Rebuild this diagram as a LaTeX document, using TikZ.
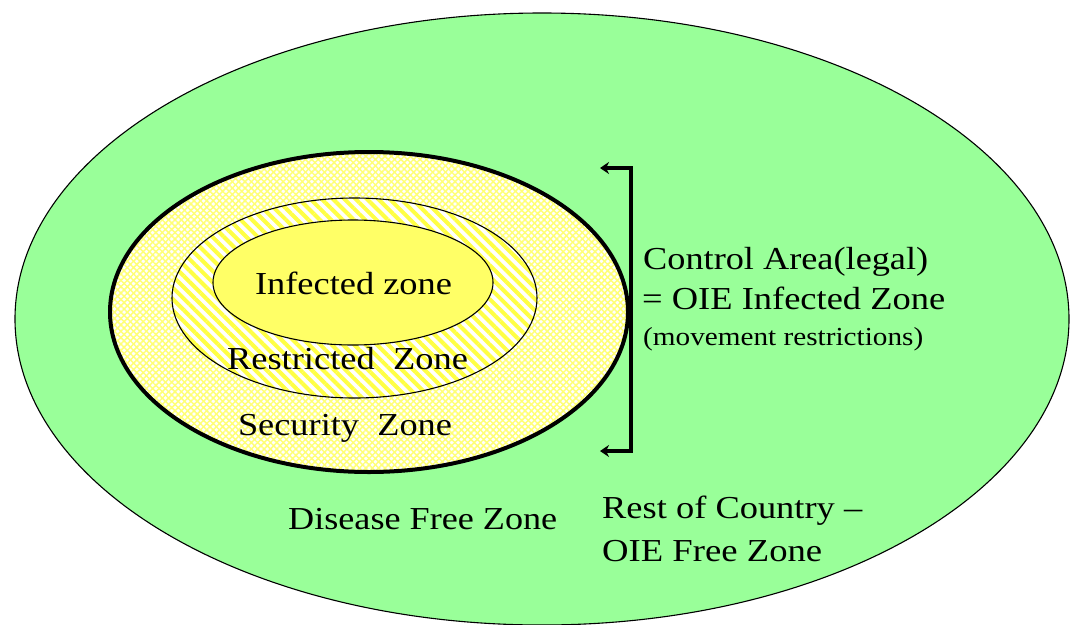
\documentclass[tikz,border=0pt]{standalone}
\usepackage{fontspec}
\setmainfont{Liberation Serif}
\usetikzlibrary{shapes.geometric,patterns.meta,arrows.meta}
\definecolor{fieldgreen}{HTML}{99FF99}
\definecolor{infyellow}{HTML}{FFFF66}
\definecolor{stripeyellow}{HTML}{FFFF44}
\definecolor{latticeyellow}{HTML}{FFFF77}
\newcommand\fitw[2]{\resizebox{#1}{\height}{#2}}
\begin{document}
\begin{tikzpicture}[x=1pt,y=-1pt,
  zone/.style={ellipse,inner sep=0pt,draw=black},
  lbl/.style={inner sep=0pt,font=\fontsize{32}{38}\selectfont,text=black},
  smalllbl/.style={inner sep=0pt,font=\fontsize{26}{30}\selectfont,text=black},
  bracketline/.style={line width=3.5pt,{Stealth[length=9pt,width=12pt]}-{Stealth[length=9pt,width=12pt]}}
]
\useasboundingbox (0,0) rectangle (1071,624);
\fill[white] (0,0) rectangle (1071,624);
% zones
\node[zone, fill=fieldgreen, line width=1.1pt, minimum width=1054pt, minimum height=612pt] (free) at (542,319) {};
\node[zone, line width=4pt, minimum width=518pt, minimum height=320pt,
  preaction={fill=white},
  preaction={pattern={Lines[angle=45,distance=4.5pt,line width=1.5pt]},pattern color=latticeyellow},
  preaction={pattern={Lines[angle=-45,distance=4.5pt,line width=1.5pt]},pattern color=latticeyellow}] (security) at (369,312) {};
\node[zone, line width=1.1pt, minimum width=365pt, minimum height=200pt,
  preaction={fill=white},
  preaction={pattern={Lines[angle=-45,distance=8pt,line width=4pt]},pattern color=stripeyellow}] (restricted) at (354.5,298) {};
\node[zone, fill=infyellow, line width=1.1pt, minimum width=280pt, minimum height=125pt] (infected) at (353,282.5) {};
% bracket
\coordinate (btip) at (600,168);
\coordinate (bcorner1) at (631,168);
\coordinate (bcorner2) at (631,451);
\coordinate (bbtip) at (600,451);
\draw[bracketline] (btip) -- (bcorner1) -- (bcorner2) -- (bbtip);
% labels
\node[lbl, anchor=base] (tinf) at (353.5,294) {\fitw{197pt}{Infected zone}};
\node[lbl, anchor=base] (tres) at (347.5,369) {\fitw{241pt}{Restricted\ \ Zone}};
\node[lbl, anchor=base] (tsec) at (345,435) {\fitw{214pt}{Security\ \ Zone}};
\node[lbl, anchor=base west] (tctl) at (643,269) {\fitw{285pt}{Control Area(legal)}};
\node[lbl, anchor=base west] (toie) at (642,309) {\fitw{303pt}{= OIE Infected Zone}};
\node[smalllbl, anchor=base west] (tmov) at (643,345) {\fitw{280pt}{(movement restrictions)}};
\node[lbl, anchor=base west] (tdfz) at (288,529) {\fitw{269pt}{Disease Free Zone}};
\node[lbl, anchor=base west] (trest) at (602,518) {\fitw{260pt}{Rest of Country –}};
\node[lbl, anchor=base west] (tfree) at (602,561) {\fitw{220pt}{OIE Free Zone}};
\end{tikzpicture}
\end{document}
